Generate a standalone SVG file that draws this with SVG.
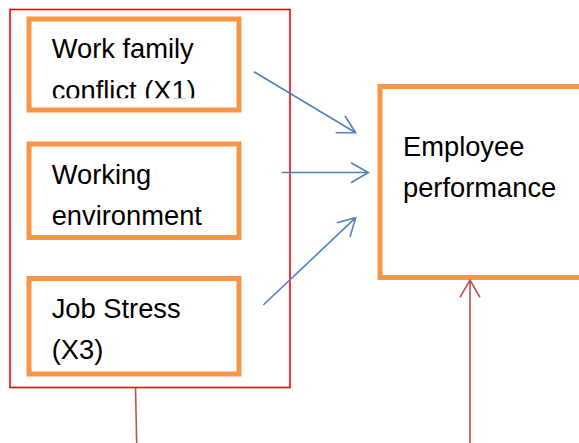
<svg xmlns="http://www.w3.org/2000/svg" width="579" height="443" viewBox="0 0 579 443">
<style>
.box{fill:#fff;stroke:#f79646;stroke-width:5}
.t{font-family:"Liberation Sans",Arial,sans-serif;font-size:27.3px;fill:#000}
.blue{stroke:#4f81bd;stroke-width:1.6;fill:none}
.brown{stroke:#c0504d;stroke-width:1.6;fill:none}
</style>
<defs>
<clipPath id="c1"><rect x="29" y="19" width="210" height="79.3"/></clipPath>
</defs>
<rect width="579" height="443" fill="#fff"/>
<g id="group-frame">
<rect x="10" y="9.5" width="280" height="378" fill="none" stroke="#ff0000" stroke-width="1.6"/>
</g>
<g id="node-x1">
<rect class="box" x="29" y="19" width="210" height="91"/>
<g clip-path="url(#c1)">
<text class="t" x="51.7" y="58.3">Work family</text>
<text class="t" x="51.7" y="99.5">conflict (X1)</text>
</g>
</g>
<g id="node-x2">
<rect class="box" x="29" y="144" width="210" height="93.5"/>
<text class="t" x="51.7" y="184">Working</text>
<text class="t" x="51.7" y="225">environment</text>
</g>
<g id="node-x3">
<rect class="box" x="29" y="278.5" width="210" height="95.5"/>
<text class="t" x="51.7" y="317.7">Job Stress</text>
<text class="t" x="51.7" y="358.5">(X3)</text>
</g>
<g id="node-y">
<rect class="box" x="380" y="86.5" width="210" height="191"/>
<text class="t" x="403" y="156">Employee</text>
<text class="t" x="403" y="196.7">performance</text>
</g>
<g id="connectors">
<path class="blue" d="M254 71.7L355.7 132.7M335.7 132.7L355.7 132.7L345 116"/>
<path class="blue" d="M281.7 172.5L368.3 172.5M351 162.7L368.3 172.5L351 182.7"/>
<path class="blue" d="M263.3 305L355.7 217.7M336.7 222.7L355.7 217.7L350 236.7"/>
<path class="brown" d="M135.5 388L136.7 443"/>
<path class="brown" d="M470 443L470 280M460 297.3L470 280L480 297.3"/>
</g>
</svg>
